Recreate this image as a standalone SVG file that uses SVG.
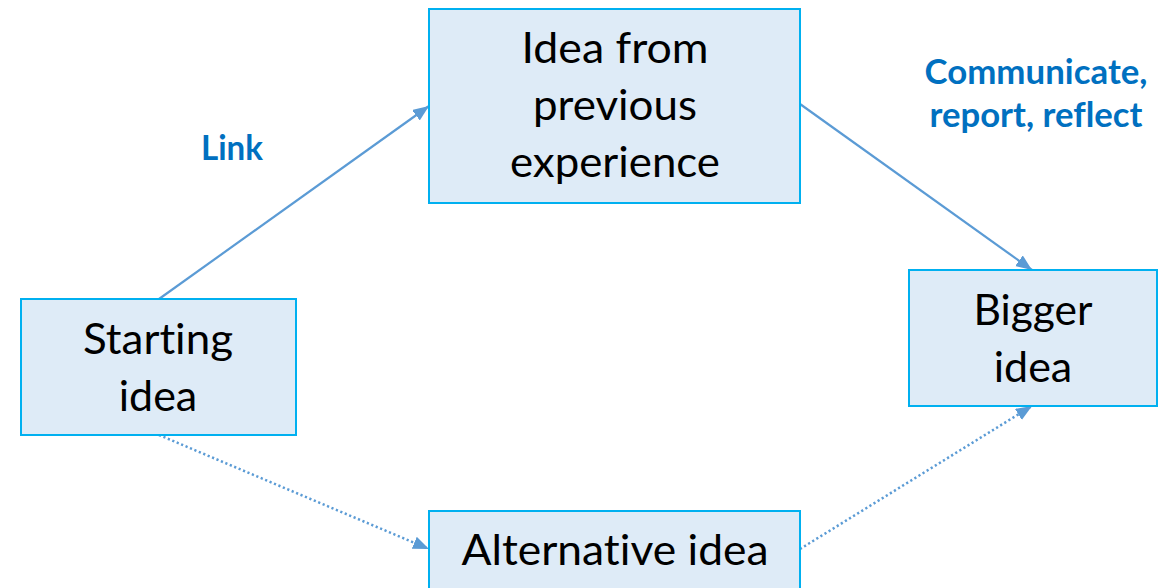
<svg xmlns="http://www.w3.org/2000/svg" width="1173" height="588" viewBox="0 0 1173 588">
<style>
.box{fill:#DEEBF7;stroke:#00B0F0;stroke-width:2}
.t{font-family:Lato,"Open Sans","Liberation Sans",sans-serif;font-size:43px;fill:#000;text-anchor:middle;font-variant-ligatures:none}
.lbl{font-family:Lato,"Open Sans","Liberation Sans",sans-serif;font-size:34px;font-weight:bold;fill:#0070C0;text-anchor:middle;font-variant-ligatures:none}
.c{stroke:#5B9BD5;stroke-width:2.2;fill:none}
.dot{stroke-dasharray:2.2 2.6;stroke-width:2.5}
</style>
<defs>
<marker id="ah" markerUnits="userSpaceOnUse" markerWidth="18" markerHeight="14" refX="16" refY="6.5" orient="auto">
<path d="M0,0 L16,6.5 L0,13 Z" fill="#5B9BD5"/>
</marker>
</defs>
<g id="connectors">
<line class="c" x1="159" y1="299" x2="429" y2="106" marker-end="url(#ah)"/>
<line class="c" x1="800" y1="104" x2="1032" y2="270" marker-end="url(#ah)"/>
<line class="c dot" x1="159" y1="435" x2="429" y2="549" marker-end="url(#ah)"/>
<line class="c dot" x1="800" y1="549" x2="1032" y2="406" marker-end="url(#ah)"/>
</g>
<g id="node-starting">
<rect class="box" x="21" y="299" width="275" height="136"/>
<text class="t" x="158" y="354" textLength="150" lengthAdjust="spacingAndGlyphs">Starting</text>
<text class="t" x="158" y="411">idea</text>
</g>
<g id="node-previous">
<rect class="box" x="429" y="9" width="371" height="194"/>
<text class="t" x="615" y="63" textLength="187" lengthAdjust="spacingAndGlyphs">Idea from</text>
<text class="t" x="615" y="120" textLength="164" lengthAdjust="spacingAndGlyphs">previous</text>
<text class="t" x="615" y="177" textLength="210" lengthAdjust="spacingAndGlyphs">experience</text>
</g>
<g id="node-bigger">
<rect class="box" x="909" y="270" width="248" height="136"/>
<text class="t" x="1033" y="325" textLength="119" lengthAdjust="spacingAndGlyphs">Bigger</text>
<text class="t" x="1033" y="382">idea</text>
</g>
<g id="node-alternative">
<rect class="box" x="429" y="511" width="371" height="100"/>
<text class="t" x="615" y="565" textLength="307" lengthAdjust="spacingAndGlyphs">Alternative idea</text>
</g>
<g id="labels">
<text class="lbl" x="232" y="160" textLength="62" lengthAdjust="spacingAndGlyphs">Link</text>
<text class="lbl" x="1036" y="84" textLength="223" lengthAdjust="spacingAndGlyphs">Communicate,</text>
<text class="lbl" x="1036" y="127" textLength="213" lengthAdjust="spacingAndGlyphs">report, reflect</text>
</g>
</svg>
